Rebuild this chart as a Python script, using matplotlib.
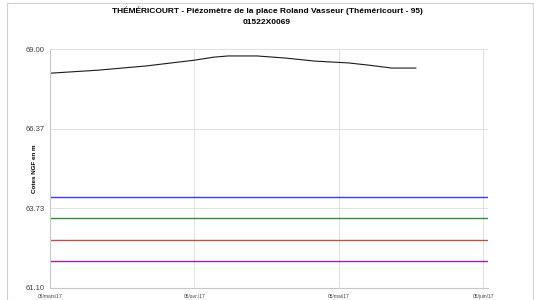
import matplotlib
matplotlib.use("Agg")
import matplotlib.pyplot as plt
from matplotlib.patches import Rectangle

# Piezometric level (days since 06/03/2017, level in m NGF)
days = [0, 10, 20, 30, 34, 37, 43, 49, 55, 62, 66, 71, 76]
level = [68.20, 68.30, 68.44, 68.63, 68.73, 68.77, 68.77, 68.70, 68.60, 68.54, 68.47, 68.37, 68.37]

# Reference thresholds (m NGF)
thresholds = [64.12, 63.42, 62.69, 62.00]
threshold_colors = ["#3b3bff", "#2e8b3a", "#c0504d", "#a020a0"]

tick_days = [0, 30, 60, 90]
tick_labels = ["06/mars/17", "05/avr./17", "05/mai/17", "05/juin/17"]
y_ticks = [61.10, 63.73, 66.37, 69.00]

plt.rcParams['font.family'] = ['Liberation Sans', 'DejaVu Sans']

fig = plt.figure(figsize=(5.34, 3.0), dpi=100)
fig.patches.append(Rectangle((0.013, 0.0), 0.985, 0.99, transform=fig.transFigure,
                             fill=False, edgecolor="#d0d0d0", linewidth=0.8))
ax = fig.add_axes([50 / 534, 1 - 288 / 300, (488 - 50) / 534, (288 - 49) / 300])

ax.plot(days, level, color="#1a1a1a", linewidth=0.8)
for v, c in zip(thresholds, threshold_colors):
    ax.plot([0, 91], [v, v], color=c, linewidth=1.0)

ax.set_xlim(0, 91)
ax.set_ylim(61.10, 69.00)
ax.set_xticks(tick_days)
ax.set_xticklabels(tick_labels, fontsize=3.5, color="#404040")
ax.set_yticks(y_ticks)
ax.set_yticklabels([f"{t:.2f}" for t in y_ticks], fontsize=5.5, color="#404040")
ax.tick_params(axis="y", length=0, pad=4)
ax.tick_params(axis="x", length=0, pad=4)
ax.grid(True, color="#dcdcdc", linewidth=0.6)
ax.set_axisbelow(True)
for s in ["top", "right"]:
    ax.spines[s].set_visible(False)
for s in ["left", "bottom"]:
    ax.spines[s].set_color("#c8c8c8")
    ax.spines[s].set_linewidth(0.8)

ax.set_ylabel("Cotes NGF en m", fontsize=4.5, fontweight="bold")
ax.yaxis.set_label_coords(-13 / 438, 0.5)
fig.text(0.5, 0.965, "THÉMÉRICOURT - Piézomètre de la place Roland Vasseur (Théméricourt - 95)",
         ha="center", va="center", fontsize=6, fontweight="bold")
fig.text(0.5, 0.925, "01522X0069", ha="center", va="center", fontsize=6, fontweight="bold")

fig.savefig("out.png", dpi=100)
